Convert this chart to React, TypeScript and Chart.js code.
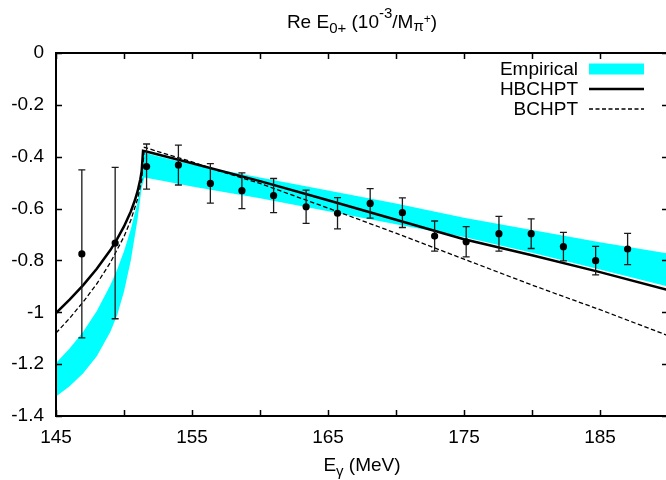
import React, { useEffect, useRef } from 'react';
import { Chart, registerables } from 'chart.js';
Chart.register(...registerables);

const FONT = '"Liberation Sans", Arial, Helvetica, sans-serif';

// Experimental points (E_gamma in MeV, Re E0+ in 10^-3/M_pi+)
const dataEnergies = [146.9, 149.35, 151.66, 154.0, 156.35, 158.67, 161.0, 163.39, 165.7, 168.1, 170.47, 172.84, 175.16, 177.57, 179.94, 182.31, 184.68, 187.03];
const dataValues = [-0.775, -0.733, -0.438, -0.432, -0.503, -0.531, -0.55, -0.593, -0.618, -0.58, -0.616, -0.706, -0.728, -0.697, -0.697, -0.747, -0.801, -0.756];
const dataErrors = [0.324, 0.292, 0.087, 0.077, 0.076, 0.069, 0.066, 0.064, 0.06, 0.057, 0.057, 0.058, 0.058, 0.067, 0.057, 0.055, 0.055, 0.06];

// HBCHPT (solid)
const hbEnergies = [145, 146, 147, 148, 149, 149.5, 150, 150.5, 150.8, 151, 151.2, 151.3, 151.4, 152, 155, 160, 165, 170, 175, 180, 185, 190];
const hbValues = [-1.003, -0.951, -0.895, -0.832, -0.76, -0.717, -0.669, -0.611, -0.568, -0.533, -0.487, -0.455, -0.377, -0.385, -0.425, -0.494, -0.568, -0.643, -0.718, -0.78, -0.845, -0.914];

// BCHPT (dashed)
const bcEnergies = [145, 146, 147, 148, 149, 150, 150.5, 151, 151.3, 151.5, 152, 155, 157, 160, 165, 170, 175, 180, 185, 190];
const bcValues = [-1.08, -1.023, -0.96, -0.89, -0.808, -0.708, -0.645, -0.563, -0.49, -0.364, -0.372, -0.42, -0.455, -0.503, -0.598, -0.695, -0.795, -0.895, -0.99, -1.09];

// Empirical band
const bandEnergies = [145, 146, 147, 148, 149, 149.5, 150, 150.5, 151, 151.3, 151.5, 153, 155, 160, 165, 170, 175, 180, 185, 190];
const bandUpper = [-1.196, -1.14, -1.075, -0.995, -0.895, -0.835, -0.765, -0.68, -0.575, -0.49, -0.385, -0.405, -0.43, -0.48, -0.53, -0.58, -0.635, -0.683, -0.73, -0.773];
const bandLower = [-1.325, -1.285, -1.235, -1.17, -1.075, -1.01, -0.92, -0.8, -0.64, -0.52, -0.48, -0.495, -0.515, -0.56, -0.61, -0.66, -0.71, -0.77, -0.835, -0.901];

const xTickValues = [145, 150, 155, 160, 165, 170, 175, 180, 185, 190];
const yTickValues = [0, -0.2, -0.4, -0.6, -0.8, -1, -1.2, -1.4];
const legendLabels = ['Empirical', 'HBCHPT', 'BCHPT'];

type Seg = { t: string; size: number; dy: number };
const titleSegs: Seg[] = [
  { t: 'Re E', size: 19, dy: 0 },
  { t: '0+', size: 15, dy: 5 },
  { t: ' (10', size: 19, dy: 0 },
  { t: '-3', size: 15, dy: -10 },
  { t: '/M', size: 19, dy: 0 },
  { t: 'π', size: 15, dy: 3 },
  { t: '+', size: 12, dy: -5 },
  { t: ')', size: 19, dy: 0 },
];
const xLabelSegs: Seg[] = [
  { t: 'E', size: 19, dy: 0 },
  { t: 'γ', size: 15, dy: 5 },
  { t: ' (MeV)', size: 19, dy: 0 },
];

function toXY(xs: number[], ys: number[]) {
  return xs.map((x, i) => ({ x, y: ys[i] }));
}

function drawRich(ctx: CanvasRenderingContext2D, segs: Seg[], cx: number, baseline: number) {
  ctx.save();
  ctx.fillStyle = '#000';
  ctx.textBaseline = 'alphabetic';
  ctx.textAlign = 'left';
  const widths = segs.map((s) => {
    ctx.font = `${s.size}px ${FONT}`;
    return ctx.measureText(s.t).width;
  });
  const total = widths.reduce((a, b) => a + b, 0);
  let x = cx - total / 2;
  segs.forEach((s, i) => {
    ctx.font = `${s.size}px ${FONT}`;
    ctx.fillText(s.t, x, baseline + s.dy);
    x += widths[i];
  });
  ctx.restore();
}

const decorPlugin = {
  id: 'decor',
  beforeDatasetDraw(chart: any, args: any) {
    if (args.index !== 0) return;
    const ctx: CanvasRenderingContext2D = chart.ctx;
    const xs = chart.scales.x;
    const ys = chart.scales.y;
    const a = chart.chartArea;
    ctx.save();
    ctx.beginPath();
    ctx.rect(a.left, a.top, a.right - a.left, a.bottom - a.top);
    ctx.clip();
    ctx.strokeStyle = '#1a1a1a';
    ctx.lineWidth = 1.3;
    dataEnergies.forEach((e, i) => {
      const px = xs.getPixelForValue(e);
      const top = ys.getPixelForValue(dataValues[i] + dataErrors[i]);
      const bot = ys.getPixelForValue(dataValues[i] - dataErrors[i]);
      ctx.beginPath();
      ctx.moveTo(px, top);
      ctx.lineTo(px, bot);
      ctx.moveTo(px - 3.5, top);
      ctx.lineTo(px + 3.5, top);
      ctx.moveTo(px - 3.5, bot);
      ctx.lineTo(px + 3.5, bot);
      ctx.stroke();
    });
    ctx.restore();
  },
  afterDraw(chart: any) {
    const ctx: CanvasRenderingContext2D = chart.ctx;
    const xs = chart.scales.x;
    const ys = chart.scales.y;
    const a = chart.chartArea;
    ctx.save();
    ctx.strokeStyle = '#000';
    ctx.lineWidth = 2;
    ctx.strokeRect(a.left, a.top, a.right - a.left, a.bottom - a.top);
    ctx.lineWidth = 1.5;
    ctx.beginPath();
    xTickValues.forEach((v) => {
      const px = Math.round(xs.getPixelForValue(v)) + 0.5;
      ctx.moveTo(px, a.bottom);
      ctx.lineTo(px, a.bottom - 6);
      ctx.moveTo(px, a.top);
      ctx.lineTo(px, a.top + 6);
    });
    yTickValues.forEach((v) => {
      const py = Math.round(ys.getPixelForValue(v)) + 0.5;
      ctx.moveTo(a.left, py);
      ctx.lineTo(a.left + 6, py);
      ctx.moveTo(a.right, py);
      ctx.lineTo(a.right - 6, py);
    });
    ctx.stroke();

    // Title and axis label
    drawRich(ctx, titleSegs, (a.left + a.right) / 2, 28);
    drawRich(ctx, xLabelSegs, (a.left + a.right) / 2, 471);

    // Legend
    const textRight = 578;
    const sx0 = 589;
    const sx1 = 644;
    const rows = [69, 89, 109];
    ctx.font = `19px ${FONT}`;
    ctx.fillStyle = '#000';
    ctx.textAlign = 'right';
    ctx.textBaseline = 'middle';
    legendLabels.forEach((l, i) => ctx.fillText(l, textRight, rows[i] + 1));
    ctx.fillStyle = '#00ffff';
    ctx.fillRect(sx0, rows[0] - 5.5, sx1 - sx0, 11);
    ctx.strokeStyle = '#000';
    ctx.lineWidth = 2.5;
    ctx.beginPath();
    ctx.moveTo(sx0, rows[1]);
    ctx.lineTo(sx1, rows[1]);
    ctx.stroke();
    ctx.lineWidth = 1.3;
    ctx.setLineDash([4, 2.5]);
    ctx.beginPath();
    ctx.moveTo(sx0, rows[2]);
    ctx.lineTo(sx1, rows[2]);
    ctx.stroke();
    ctx.restore();
  },
};

export default function App() {
  const ref = useRef<HTMLCanvasElement>(null);
  useEffect(() => {
    document.body.style.margin = '0';
    const canvas = ref.current!;
    const chart = new Chart(canvas, {
      type: 'line',
      data: {
        datasets: [
          {
            label: 'data',
            data: toXY(dataEnergies, dataValues),
            showLine: false,
            pointRadius: 3.6,
            pointBackgroundColor: '#000',
            pointBorderColor: '#000',
            pointBorderWidth: 0,
          } as any,
          {
            label: 'HBCHPT',
            data: toXY(hbEnergies, hbValues),
            borderColor: '#000',
            borderWidth: 2.5,
            pointRadius: 0,
            tension: 0,
            fill: false,
          },
          {
            label: 'BCHPT',
            data: toXY(bcEnergies, bcValues),
            borderColor: '#000',
            borderWidth: 1.3,
            borderDash: [4.5, 2.5],
            pointRadius: 0,
            tension: 0,
            fill: false,
          },
          {
            label: 'bandLower',
            data: toXY(bandEnergies, bandLower),
            borderWidth: 0,
            borderColor: 'rgba(0,0,0,0)',
            pointRadius: 0,
            tension: 0,
            fill: false,
          },
          {
            label: 'Empirical',
            data: toXY(bandEnergies, bandUpper),
            borderWidth: 0,
            borderColor: 'rgba(0,0,0,0)',
            backgroundColor: '#00ffff',
            pointRadius: 0,
            tension: 0,
            fill: '-1',
          },
        ],
      },
      options: {
        responsive: false,
        animation: false,
        devicePixelRatio: 1,
        events: [],
        layout: { padding: { top: 53, right: 12, left: 0, bottom: 0 } },
        plugins: {
          legend: { display: false },
          tooltip: { enabled: false },
          title: { display: false },
        },
        scales: {
          x: {
            type: 'linear',
            min: 145,
            max: 190,
            grid: { display: false, drawTicks: false },
            border: { display: false },
            ticks: {
              stepSize: 5,
              autoSkip: false,
              maxRotation: 0,
              padding: 10,
              color: '#000',
              font: { size: 19, family: FONT },
              callback: (v: any) => {
                const n = Math.round(Number(v));
                return (n - 145) % 10 === 0 && n < 190 ? String(n) : '';
              },
            },
            afterFit: (s: any) => {
              s.height = 64;
            },
          },
          y: {
            type: 'linear',
            min: -1.4,
            max: 0,
            grid: { display: false, drawTicks: false },
            border: { display: false },
            ticks: {
              stepSize: 0.2,
              padding: 12,
              color: '#000',
              font: { size: 19, family: FONT },
              callback: (v: any) => {
                const n = Math.round(Number(v) * 10) / 10;
                return n === 0 ? '0' : String(n);
              },
            },
            afterFit: (s: any) => {
              s.width = 56;
            },
          },
        },
      } as any,
      plugins: [decorPlugin as any],
    });
    return () => chart.destroy();
  }, []);
  return (
    <div style={{ position: 'fixed', left: 0, top: 0, width: 666, height: 480, overflow: 'hidden', background: '#fff' }}>
      <canvas ref={ref} width={680} height={480} style={{ display: 'block', width: 680, height: 480 }} />
    </div>
  );
}
